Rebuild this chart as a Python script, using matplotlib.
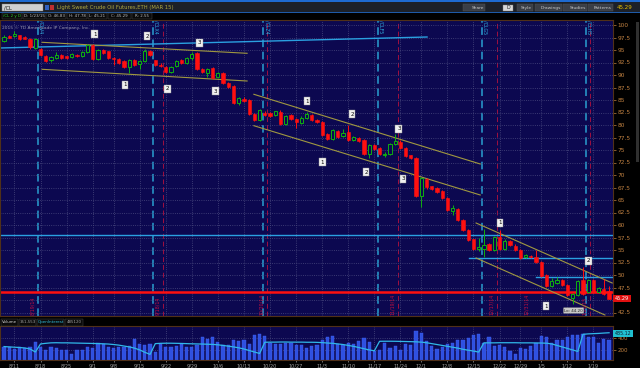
import numpy as np
import matplotlib.pyplot as plt
from matplotlib.patches import Rectangle

W, H = 640, 368
BG = '#0c0850'
UP = '#10b010'
DOWN = '#ff1010'

# daily candles, /CL continuous, 8/7/14 .. 1/23/15
opens = [96.9, 97.8, 97.8, 97.9, 97.6, 97.3, 95.5, 95.2, 93.9, 93.0,
         93.5, 94.0, 93.7, 93.6, 94.1, 93.8, 94.6, 96.0, 93.2, 95.0,
         94.7, 93.5, 93.2, 92.9, 91.6, 93.0, 92.2, 92.9, 94.8, 92.9,
         92.1, 91.7, 90.7, 91.8, 93.0, 92.4, 93.4, 94.4, 91.3, 90.4,
         91.4, 89.6, 90.5, 88.5, 87.8, 84.4, 85.2, 85.0, 82.3, 81.0,
         82.5, 82.5, 82.0, 82.7, 80.3, 82.0, 81.2, 80.5, 81.5, 82.0,
         81.0, 80.7, 78.3, 77.3, 78.9, 77.8, 78.7, 77.1, 77.5, 77.0,
         74.3, 76.0, 75.5, 74.0, 74.2, 76.3, 76.7, 75.5, 73.9, 73.5,
         65.9, 69.2, 67.7, 67.5, 66.8, 65.4, 62.9, 63.3, 61.1, 59.1,
         57.1, 55.2, 55.3, 56.2, 55.0, 57.7, 55.3, 56.8, 55.9, 55.0,
         53.6, 53.8, 53.7, 52.7, 50.0, 47.8, 48.5, 49.0, 48.0, 45.5,
         46.0, 49.0, 46.7, 49.1, 46.7, 47.3, 46.83]
highs = [98.0, 98.0, 98.8, 98.1, 97.8, 97.5, 97.5, 95.4, 94.1, 93.8,
         94.6, 94.2, 93.9, 94.4, 94.3, 94.8, 96.3, 96.2, 95.3, 95.3,
         94.9, 93.7, 93.4, 93.1, 93.2, 93.2, 93.0, 95.2, 95.0, 93.1,
         92.4, 91.9, 91.9, 93.1, 93.2, 93.7, 94.6, 94.6, 91.5, 91.5,
         91.6, 90.6, 90.7, 88.7, 88.0, 85.7, 85.6, 85.2, 82.5, 83.2,
         82.8, 82.7, 82.9, 83.0, 82.1, 82.3, 81.4, 81.8, 82.6, 82.3,
         81.2, 80.9, 78.5, 79.3, 79.1, 79.2, 80.0, 77.9, 77.7, 77.2,
         76.2, 76.2, 75.7, 74.6, 76.5, 78.3, 77.0, 75.7, 74.1, 73.7,
         69.7, 69.5, 67.9, 67.7, 67.0, 65.6, 64.0, 63.5, 61.3, 59.3,
         57.3, 57.5, 59.2, 56.5, 57.9, 59.1, 57.2, 57.1, 56.2, 55.2,
         54.3, 54.0, 55.0, 52.9, 50.2, 49.4, 49.6, 49.3, 48.2, 46.5,
         49.0, 51.7, 49.3, 49.3, 47.7, 49.2, 47.78]
lows = [96.6, 97.4, 97.6, 97.0, 97.2, 95.2, 95.3, 93.8, 92.7, 92.7,
        93.3, 93.2, 93.3, 93.4, 93.6, 93.6, 94.4, 93.0, 93.0, 94.3,
        93.3, 92.1, 92.3, 91.4, 90.4, 91.8, 91.2, 92.7, 93.8, 91.8,
        91.7, 90.5, 90.5, 91.6, 92.2, 92.2, 93.1, 91.1, 90.5, 89.6,
        89.3, 89.4, 88.3, 87.5, 84.3, 84.0, 84.7, 82.0, 80.8, 80.8,
        81.8, 81.7, 81.8, 80.0, 80.0, 81.0, 79.5, 80.3, 81.3, 80.8,
        80.5, 77.9, 77.1, 77.1, 77.5, 77.6, 76.9, 76.9, 76.7, 74.0,
        73.4, 75.1, 74.0, 73.7, 74.0, 76.1, 75.3, 73.7, 73.3, 65.6,
        63.7, 67.3, 67.1, 66.5, 65.3, 62.8, 62.0, 60.8, 58.8, 56.9,
        55.1, 54.8, 53.6, 54.8, 54.8, 55.0, 55.1, 55.8, 54.9, 53.3,
        53.4, 53.4, 52.5, 49.6, 47.6, 47.6, 48.3, 47.8, 45.8, 44.2,
        45.8, 46.1, 46.5, 46.5, 46.5, 46.1, 45.21]
closes = [97.7, 97.5, 98.2, 97.2, 97.3, 95.6, 97.2, 94.0, 92.9, 93.6,
          94.0, 93.4, 93.5, 94.2, 93.8, 94.6, 96.0, 93.2, 95.1, 94.5,
          93.5, 93.2, 92.5, 91.6, 93.0, 92.0, 92.8, 94.9, 94.0, 92.0,
          91.9, 90.7, 91.7, 92.8, 92.4, 93.4, 94.3, 91.3, 90.7, 91.3,
          89.5, 90.4, 88.5, 87.7, 84.5, 85.5, 84.9, 82.3, 81.0, 83.0,
          82.0, 81.9, 82.7, 80.2, 81.8, 81.2, 80.7, 81.5, 82.3, 81.0,
          80.7, 78.1, 77.3, 79.0, 77.7, 78.5, 77.1, 77.7, 76.9, 74.2,
          76.0, 75.3, 74.2, 74.3, 76.3, 76.8, 75.5, 73.9, 73.5, 65.8,
          69.5, 67.6, 67.3, 66.7, 65.5, 63.0, 63.5, 61.0, 59.0, 57.1,
          55.3, 55.6, 56.0, 55.0, 57.7, 55.2, 56.8, 56.0, 55.1, 53.5,
          54.0, 53.6, 52.7, 49.8, 47.8, 48.8, 49.0, 48.0, 46.0, 46.3,
          48.8, 46.3, 49.1, 46.7, 47.5, 46.3, 45.29]

# volume and open interest, thousands
volume = [256, 241, 215, 256, 226, 241, 333, 256, 190, 256,
          226, 190, 190, 138, 190, 190, 256, 226, 308, 292,
          256, 226, 256, 256, 267, 379, 292, 277, 292, 164,
          292, 241, 241, 267, 292, 256, 256, 277, 410, 379,
          410, 328, 277, 277, 359, 344, 369, 292, 446, 461,
          431, 318, 292, 292, 318, 318, 277, 277, 226, 267,
          277, 369, 421, 431, 292, 277, 308, 292, 344, 395,
          328, 174, 190, 318, 226, 267, 190, 292, 277, 513,
          482, 344, 267, 215, 256, 292, 308, 369, 369, 395,
          446, 461, 318, 421, 267, 277, 256, 174, 138, 226,
          215, 267, 318, 431, 410, 318, 359, 369, 421, 446,
          446, 461, 410, 421, 318, 379, 359]
open_interest = [256, 250, 245, 240, 232, 215, 165, 300, 310,
                 318, 320, 318, 318, 316, 314, 312, 310, 308, 306, 302, 298,
                 290, 280, 265, 250, 230, 200, 160, 125,
                 305, 310, 312, 312, 310, 308, 305, 302, 300, 298, 295, 292,
                 285, 275, 262, 250, 235, 215, 190, 165, 140,
                 328, 330, 330, 332, 332, 330, 330, 330, 328, 328, 326, 322,
                 315, 310, 300, 290, 275, 260, 240, 220, 200, 185,
                 344, 345, 345, 344, 342, 340, 338, 335,
                 330, 320, 305, 290, 275, 260, 245, 230, 210, 195, 180, 164,
                 318, 318, 318, 320, 320, 320, 320, 318, 318, 318, 316, 315, 312,
                 300, 275, 250, 225, 200, 174,
                 461, 468, 472, 476, 482, 487]

date_ticks = [2, 7, 12, 17, 21, 26, 31, 36, 41, 46, 51, 56, 61, 66, 71, 76,
              80, 85, 90, 95, 99, 103, 108, 113]
date_labels = ['8/11', '8/18', '8/25', '9/1', '9/8', '9/15', '9/22', '9/29',
               '10/6', '10/13', '10/20', '10/27', '11/3', '11/10', '11/17',
               '11/24', '12/1', '12/8', '12/15', '12/22', '12/29', '1/5',
               '1/12', '1/19']

roll_pos = [6.5, 28.6, 49.7, 71.7, 91.6, 111.6]
roll_names = ['/CLV4', '/CLX4', '/CLZ4', '/CLF5', '/CLG5', '/CLH5']
expiry_pos = [30.5, 50.4, 75.5, 94.5, 112.3]
expiry_label_pos = [6.0, 30.0, 49.9, 75.0, 94.0, 100.6, 111.8]
expiry_labels = ['8/19/14', '9/18/14', '10/20/14', '11/19/14', '12/17/14',
                 '12/31/14', '1/20/15']

# drawn trendlines (x index, price)
channels = [
    ((7.3, 96.54), (46.6, 94.34)), ((7.3, 91.14), (46.6, 88.8)),
    ((47.9, 86.14), (91.3, 72.2)), ((47.9, 79.86), (91.3, 66.0)),
    ((90.5, 60.4), (116.6, 48.4)), ((90.5, 53.4), (115.2, 42.0)),
]
wave_marks = [('1', 17.4, 98.2), ('2', 27.4, 97.8), ('3', 37.4, 96.4),
              ('1', 23.2, 88.0), ('2', 31.3, 87.2), ('3', 40.5, 86.8),
              ('1', 58.1, 84.8), ('2', 66.7, 82.2), ('3', 75.7, 79.2),
              ('1', 61.0, 72.6), ('2', 69.4, 70.6), ('3', 76.5, 69.2),
              ('1', 95.1, 60.4), ('2', 112.0, 52.8), ('1', 103.9, 43.8)]
level_full = 58.0
level_red = 46.6
short_levels = [(89.2, 53.5), (102.0, 49.6)]
upper_line = ((-0.8, 95.4), (81.1, 97.6))

n = len(opens)
idx = np.arange(n)
XL = (-0.77, 116.75)


def px_rect(x0, y0, x1, y1):
    return [x0 / W, 1 - y1 / H, (x1 - x0) / W, (y1 - y0) / H]


fig = plt.figure(figsize=(6.4, 3.68), dpi=100, facecolor='black')

# ---- price panel ----
ax = fig.add_axes(px_rect(0, 20, 613, 316), facecolor=BG)
ax.set_xlim(*XL)
ax.set_ylim(41.8, 101)
yt = np.arange(42.5, 100.1, 2.5)
ax.set_yticks(yt)
ax.set_yticklabels(['' if v == 45 else f'{v:g}' for v in yt])
ax.yaxis.tick_right()
ax.tick_params(axis='y', colors='#c08040', labelsize=4.2, length=2, width=0.5, pad=1.5)
ax.set_xticks(date_ticks)
ax.tick_params(axis='x', length=0, labelbottom=False)
ax.grid(color='#4a4a80', ls=':', lw=0.6)
for s in ax.spines.values():
    s.set_color('#503018')

for x in roll_pos:
    ax.axvline(x, color='#2aa0d0', lw=1.1, ls=(0, (5, 3)), zorder=1)
for x in expiry_pos:
    ax.axvline(x, color='#a01040', lw=0.7, ls=(0, (5, 3)), zorder=1)
for x, t in zip(roll_pos, roll_names):
    ax.text(x + 0.15, 100.9, t, rotation=270, va='top', ha='left',
            fontsize=3.4, color='#30b0e0', zorder=5)
for x, t in zip(expiry_label_pos, expiry_labels):
    ax.text(x, 42.0, t, rotation=90, va='bottom', ha='right',
            fontsize=3.4, color='#c01040', zorder=5)

ax.axhline(level_full, color='#2aa0e0', lw=1.0, zorder=2)
ax.axhline(level_red, color='#ff1010', lw=1.8, zorder=2)
for x0, y in short_levels:
    ax.plot([x0, XL[1]], [y, y], color='#2aa0e0', lw=1.0, zorder=2)
ax.plot(*zip(*upper_line), color='#2aa0e0', lw=1.0, zorder=2)
for p0, p1 in channels:
    ax.plot([p0[0], p1[0]], [p0[1], p1[1]], color='#a09840', lw=0.8, zorder=2)

up = np.array(closes) >= np.array(opens)
colors = np.where(up, UP, DOWN)
ax.vlines(idx, lows, highs, colors=colors, lw=0.7, zorder=3)
body_lo = np.minimum(opens, closes)
body_h = np.maximum(np.abs(np.array(closes) - np.array(opens)), 0.15)
ax.bar(idx[up], body_h[up], bottom=body_lo[up], width=0.62,
       facecolor=BG, edgecolor=UP, lw=0.7, zorder=4)
ax.bar(idx[~up], body_h[~up], bottom=body_lo[~up], width=0.62,
       facecolor=DOWN, edgecolor=DOWN, lw=0.4, zorder=4)

for t, x, y in wave_marks:
    ax.text(x, y, t, fontsize=4, color='black', ha='center', va='center', zorder=6,
            bbox=dict(boxstyle='square,pad=0.3', fc='#f0f0f0', ec='#909090', lw=0.3))
ax.text(109.2, 42.9, 'Lo: 44.20', fontsize=3.0, color='#202020', ha='center', va='center',
        zorder=6, bbox=dict(boxstyle='round,pad=0.2', fc='#c8c8c8', ec='#808080', lw=0.3))
ax.text(-0.3, 99.4, '2015 \u00a9 TD Ameritrade IP Company, Inc.', fontsize=3.2,
        color='#9a9ab0', ha='left', va='center', zorder=6)

# ---- volume panel ----
vax = fig.add_axes(px_rect(0, 326, 613, 360), facecolor=BG)
vax.set_xlim(*XL)
vax.set_ylim(31, 600)
vax.bar(idx, volume, width=0.62, color='#2f50e0', edgecolor='#4060f0', lw=0.3, zorder=2)
vax.plot(idx, open_interest, color='#30b8e8', lw=0.9, zorder=3)
vax.set_xticks(date_ticks)
vax.set_xticklabels(date_labels)
vax.tick_params(axis='x', colors='#a0a0a0', labelsize=3.6, length=1.5, width=0.5, pad=0.8)
vax.set_yticks([200, 400])
vax.yaxis.tick_right()
vax.tick_params(axis='y', colors='#c08040', labelsize=4.0, length=2, width=0.5, pad=1.5)
vax.grid(color='#4a4a80', ls=':', lw=0.6)
for s in vax.spines.values():
    s.set_color('#503018')

# ---- frame, toolbar and tags ----
ov = fig.add_axes([0, 0, 1, 1], zorder=10)
ov.set_xlim(0, W)
ov.set_ylim(H, 0)
ov.axis('off')
ov.patch.set_alpha(0)

ov.add_patch(Rectangle((0, 0), W, 12, fc='#1c2028', ec='none'))
ov.add_patch(Rectangle((0, 0), W, 1.5, fc='#1e6ad0', ec='none'))
ov.add_patch(Rectangle((0, 11.5), W, 1.2, fc='#1e5aa8', ec='none'))
ov.add_patch(Rectangle((2, 4), 41, 7, fc='#d0d0d0', ec='#808080', lw=0.3))
ov.text(4, 7.6, '/CL', fontsize=3.6, color='#101010', va='center')
ov.add_patch(Rectangle((45, 5), 4, 5, fc='#3060c0', ec='none'))
ov.add_patch(Rectangle((50, 5), 4, 5, fc='#c03030', ec='none'))
ov.text(57, 7.6, 'Light Sweet Crude Oil Futures,ETH (MAR 15)', fontsize=3.8,
        color='#b0a840', va='center')
buttons = [('Share', 463, 485), ('Style', 517, 533), ('Drawings', 535, 562),
           ('Studies', 563, 587), ('Patterns', 588, 613)]
for t, x0, x1 in buttons:
    ov.add_patch(Rectangle((x0, 4), x1 - x0, 7, fc='#3a3e46', ec='#555', lw=0.3))
    ov.text(x1 - 1, 7.6, t, fontsize=3.2, color='#c8c8c8', va='center', ha='right')
ov.add_patch(Rectangle((503, 4.5), 10, 6, fc='#d8d8d8', ec='#808080', lw=0.3))
ov.text(508, 7.6, 'D', fontsize=3.4, color='#202020', va='center', ha='center')
ov.text(617, 7.6, '45.29', fontsize=4, color='#e8c000', va='center')

info = [('/CL 2 y D', 2, 22, '#30d030'), ('D: 1/23/15', 23, 45, '#c0c0c0'),
        ('O: 46.83', 46, 66, '#c0c0c0'), ('H: 47.78', 67, 87, '#c0c0c0'),
        ('L: 45.21', 88, 107, '#c0c0c0'), ('C: 45.29', 108, 131, '#c0c0c0'),
        ('R: 2.55', 132, 152, '#c0c0c0')]
for t, x0, x1, c in info:
    ov.add_patch(Rectangle((x0, 13.2), x1 - x0, 6, fc='#0a0a0a', ec='#505050', lw=0.3))
    ov.text((x0 + x1) / 2, 16.3, t, fontsize=2.9, color=c, va='center', ha='center')

vol_hdr = [('Volume', 1, 18, '#d0d0d0'), ('351,553', 19, 36, '#a0a0a0'),
           ('OpenInterest', 37, 64, '#30c0e0'), ('485120', 65, 83, '#a0a0a0')]
for t, x0, x1, c in vol_hdr:
    ov.add_patch(Rectangle((x0, 319), x1 - x0, 6.5, fc='#0a0a0a', ec='#505050', lw=0.3))
    ov.text((x0 + x1) / 2, 322.3, t, fontsize=2.9, color=c, va='center', ha='center')

ov.add_patch(Rectangle((613, 295), 18, 7, fc='#e01010', ec='none'))
ov.text(622, 298.6, '45.29', fontsize=3.6, color='white', va='center', ha='center')
ov.add_patch(Rectangle((613, 330), 20, 6.5, fc='#20c0d0', ec='none'))
ov.text(623, 333.3, '485.12', fontsize=3.4, color='#102030', va='center', ha='center')
ov.add_patch(Rectangle((636, 22), 3, 140, fc='#303030', ec='none'))

fig.savefig('out.png', dpi=100, facecolor='black')
